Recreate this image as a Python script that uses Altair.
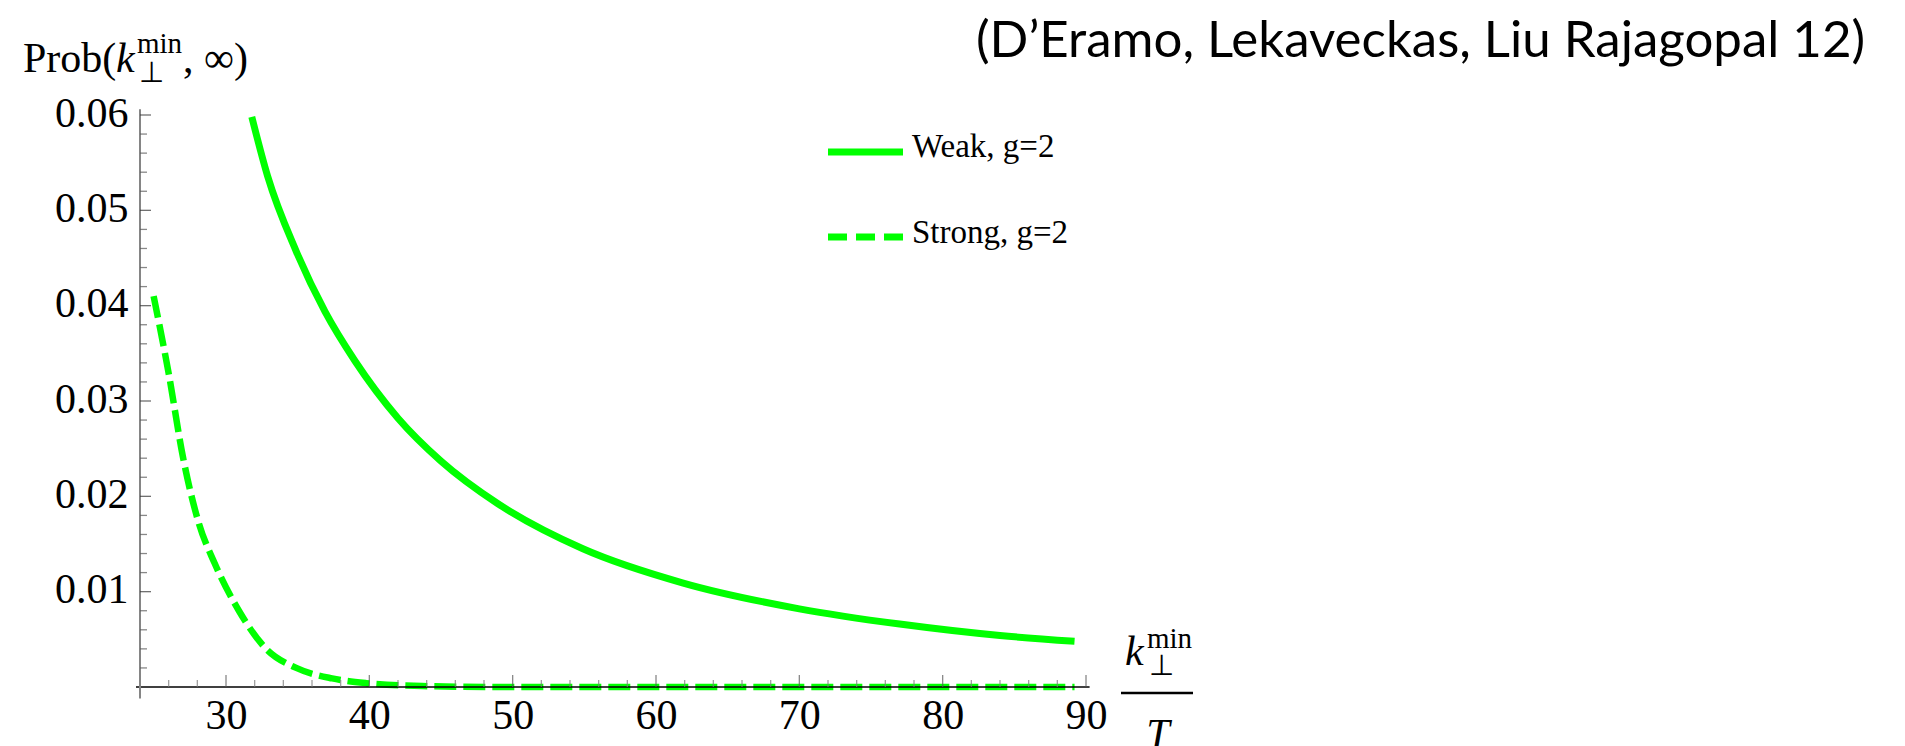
import altair as alt
import pandas as pd

# Weak-coupling probability curve, g = 2
weak_k = [31.8, 32.9, 34.9, 36.9, 39.0, 42.0, 45.0, 49.0, 54.9, 61.9, 70.0,
          77.0, 84.0, 89.2]
weak_p = [0.0598, 0.0536, 0.0457, 0.0394, 0.0342, 0.0282, 0.0237, 0.0192,
          0.0145, 0.0109, 0.0082, 0.0066, 0.0054, 0.0048]

# Strong-coupling probability curve, g = 2
strong_k = [24.95, 26.0, 27.0, 28.1, 29.2, 30.9, 32.8, 34.9, 37.4, 39.8,
            43.7, 50.0, 60.0, 70.0, 80.0, 89.2]
strong_p = [0.0410, 0.0329, 0.0241, 0.0172, 0.0130, 0.0080, 0.0040, 0.0020,
            0.0009, 0.0004, 0.0001, 0.0, 0.0, 0.0, 0.0, 0.0]

series_names = ["Weak, g=2", "Strong, g=2"]

x_labels = [30, 40, 50, 60, 70, 80, 90]
x_minor = [26, 28, 32, 34, 36, 38, 42, 44, 46, 48, 52, 54, 56, 58, 62, 64,
           66, 68, 72, 74, 76, 78, 82, 84, 86, 88]
y_labels = [0.01, 0.02, 0.03, 0.04, 0.05, 0.06]
y_minor = [0.002, 0.004, 0.006, 0.008, 0.012, 0.014, 0.016, 0.018, 0.022,
           0.024, 0.026, 0.028, 0.032, 0.034, 0.036, 0.038, 0.042, 0.044,
           0.046, 0.048, 0.052, 0.054, 0.056, 0.058]

GREEN = "#00ff00"
SERIF = "Liberation Serif"
W, H = 946, 572

xs = alt.Scale(domain=[24, 90], nice=False, zero=False)
ys = alt.Scale(domain=[0, 0.06], nice=False, zero=False)

x_axis = alt.Axis(values=x_labels, format="d", title=None, domain=False,
                  ticks=False, tickSize=0, grid=False, labelFont=SERIF,
                  labelFontSize=42, labelColor="black", labelPadding=8,
                  labelFlush=False, labelOverlap=False)
y_axis = alt.Axis(values=y_labels, format=".2f", title=None, domain=False,
                  ticks=False, tickSize=0, grid=False, labelFont=SERIF,
                  labelFontSize=42, labelColor="black", labelPadding=12,
                  labelFlush=False, labelOverlap=False, labelOffset=-2)


def X(field=None, datum=None):
    if datum is not None:
        return alt.X(datum=datum, type="quantitative", scale=xs, axis=x_axis)
    return alt.X(field, type="quantitative", scale=xs, axis=x_axis)


def Y(field=None, datum=None):
    if datum is not None:
        return alt.Y(datum=datum, type="quantitative", scale=ys, axis=y_axis)
    return alt.Y(field, type="quantitative", scale=ys, axis=y_axis)


weak_df = pd.DataFrame({"k": weak_k, "p": weak_p})
strong_df = pd.DataFrame({"k": strong_k, "p": strong_p})

weak = alt.Chart(weak_df).mark_line(
    color=GREEN, strokeWidth=7, interpolate="monotone"
).encode(x=X("k"), y=Y("p"))

strong = alt.Chart(strong_df).mark_line(
    color=GREEN, strokeWidth=6.5, strokeDash=[22, 7], interpolate="monotone"
).encode(x=X("k"), y=Y("p"))

# Axis lines through the origin (24, 0), slightly overshooting both ends
x_line = alt.Chart(pd.DataFrame({"a": [23.72], "b": [90.25], "y": [0.0]})).mark_rule(
    color="black", strokeWidth=1.5
).encode(x=X("a"), x2="b:Q", y=Y("y"))

y_line = alt.Chart(pd.DataFrame({"x": [24.0], "a": [-0.0012], "b": [0.0606]})).mark_rule(
    color="#858585", strokeWidth=2
).encode(x=X("x"), y=Y("a"), y2="b:Q")


def x_ticks(vals, length, color):
    return alt.Chart(pd.DataFrame({"v": vals})).mark_tick(
        orient="vertical", size=length, thickness=1.3, yOffset=-length / 2,
        color=color
    ).encode(x=X("v"), y=Y(datum=0))


def y_ticks(vals, length, color):
    return alt.Chart(pd.DataFrame({"v": vals})).mark_tick(
        orient="horizontal", size=length, thickness=1.3, xOffset=length / 2,
        color=color
    ).encode(y=Y("v"), x=X(datum=24))


def label(text, x, y, size=42, italic=False, font=SERIF, align="left"):
    return alt.Chart(pd.DataFrame({"t": [text]})).mark_text(
        font=font, fontSize=size, fontStyle="italic" if italic else "normal",
        align=align, baseline="alphabetic", color="black"
    ).encode(text="t:N", x=alt.value(x), y=alt.value(y))


def legend_line(y, dash):
    props = dict(color=GREEN, strokeWidth=7)
    if dash:
        props["strokeDash"] = dash
    return alt.Chart(pd.DataFrame({"y": [y]})).mark_rule(**props).encode(
        x=alt.value(688), x2=alt.value(763), y=alt.value(y))


frac_bar = alt.Chart(pd.DataFrame({"y": [578]})).mark_rule(
    color="black", strokeWidth=2.5
).encode(x=alt.value(981), x2=alt.value(1053), y=alt.value(578))

layers = [
    weak, strong,
    x_line, y_line,
    x_ticks(x_labels, 12, "#555555"), x_ticks(x_minor, 7, "#777777"),
    y_ticks(y_labels, 11, "#333333"), y_ticks(y_minor, 7, "#555555"),
    # vertical axis title: Prob(k_perp^min, inf)
    label("Prob(", -117, -43),
    label("k", -24, -43, italic=True),
    label("min", -3, -62, size=29),
    label("\u22a5", -1, -33, size=29),
    label(", \u221e)", 43, -43),
    # horizontal axis title: k_perp^min / T
    label("k", 985, 550, italic=True),
    label("min", 1007, 533, size=29),
    label("\u22a5", 1009, 560, size=29),
    frac_bar,
    label("T", 1018, 633, italic=True, align="center"),
    # legend
    legend_line(37, None),
    label(series_names[0], 772, 42, size=33),
    legend_line(122, [19, 9]),
    label(series_names[1], 772, 128, size=33),
    # citation
    label("(D\u2019Eramo, Lekaveckas, Liu Rajagopal 12)", 836, -58,
          size=51, font="Lato"),
]

chart = alt.layer(*layers).properties(
    width=W, height=H,
    autosize=alt.AutoSizeParams(type="none"),
    padding={"left": 140, "top": 115, "right": 819, "bottom": 59},
    background="white",
).configure_view(stroke=None)

chart.save("out.html", embed_options={"renderer": "svg", "actions": False})
